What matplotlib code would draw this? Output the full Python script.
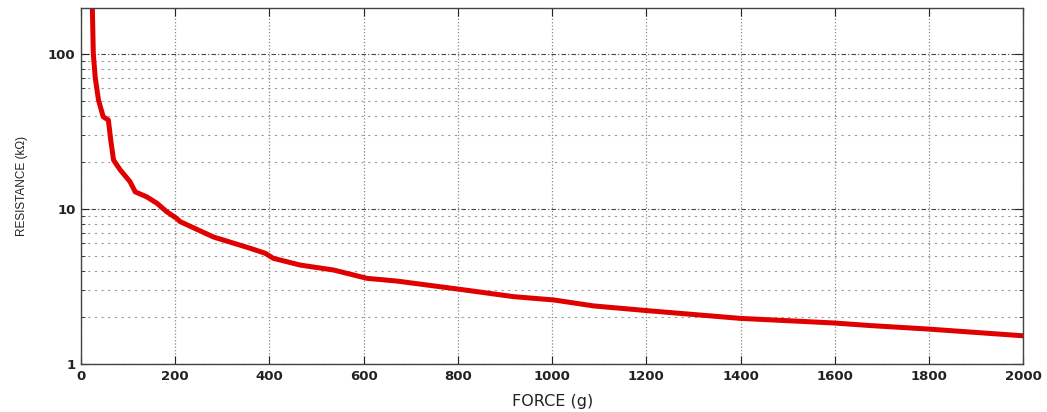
import matplotlib
matplotlib.use("Agg")
import matplotlib.pyplot as plt
from matplotlib.ticker import LogLocator, NullFormatter, FixedLocator

plt.rcParams['font.family'] = ['DejaVu Sans']

force_g = [23, 24, 26, 30, 37, 47, 58, 63, 69, 83, 104, 115, 139, 161, 182, 203,
           210, 281, 359, 391, 408, 465, 536, 607, 670, 805, 918, 1003, 1088,
           1187, 1201, 1399, 1597, 1675, 1799, 2000]
resistance_kohm = [210, 202, 101, 71, 50.5, 39.4, 37.5, 27.9, 20.7, 17.9, 15.0, 12.9, 12.0,
                   10.9, 9.6, 8.7, 8.3, 6.6, 5.58, 5.18, 4.81, 4.35, 4.04, 3.57, 3.43,
                   3.03, 2.72, 2.59, 2.37, 2.23, 2.21, 1.97, 1.84, 1.77, 1.68, 1.52]
x_ticks = [0, 200, 400, 600, 800, 1000, 1200, 1400, 1600, 1800, 2000]
y_ticks = [1, 10, 100]
y_ticklabels = ['1', '10', '100']

fig = plt.figure(figsize=(10.47, 4.12), dpi=100)
ax = fig.add_axes([0.0774, 0.1165, 0.9, 0.864])

ax.plot(force_g, resistance_kohm, color='#e00000', linewidth=3.6, solid_capstyle='round')

ax.set_yscale('log')
ax.set_xlim(0, 2000)
ax.set_ylim(1, 198)
ax.xaxis.set_major_locator(FixedLocator(x_ticks))
ax.set_xticklabels([str(v) for v in x_ticks])
ax.yaxis.set_major_locator(FixedLocator(y_ticks))
ax.set_yticklabels(y_ticklabels)
ax.yaxis.set_minor_locator(LogLocator(base=10, subs=range(2, 10)))
ax.yaxis.set_minor_formatter(NullFormatter())

ax.grid(True, which='major', axis='x', linestyle=':', color='#888888', linewidth=0.9)
ax.grid(True, which='major', axis='y', linestyle=(0, (4, 2, 1, 2)), color='#444444', linewidth=0.8)
ax.grid(True, which='minor', axis='y', linestyle=(0, (2, 4)), color='#999999', linewidth=0.8)

ax.tick_params(which='both', direction='in', top=True, right=True, labelsize=9.5,
               colors='#222222', pad=4)
ax.tick_params(which='major', length=6)
ax.tick_params(which='minor', length=3)
for lab in ax.get_xticklabels() + ax.get_yticklabels():
    lab.set_fontweight('bold')
for s in ax.spines.values():
    s.set_color('#444444')
    s.set_linewidth(1.0)

ax.set_xlabel('FORCE (g)', fontsize=11.5, labelpad=8, color='#222222')
ax.set_ylabel('RESISTANCE (k\u03a9)', fontsize=8.5, labelpad=14, color='#222222',
              family=['Liberation Sans', 'DejaVu Sans'])

fig.savefig('out.png', dpi=100)
